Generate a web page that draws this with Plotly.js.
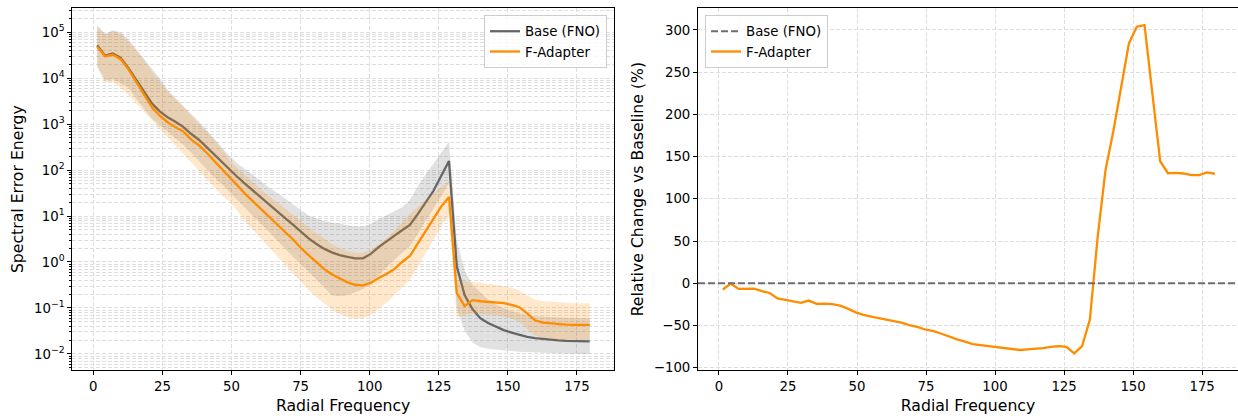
<!DOCTYPE html>
<html>
<head>
<meta charset="utf-8">
<script src="https://cdn.plot.ly/plotly-3.0.1.min.js"></script>
<style>html,body{margin:0;padding:0;background:#fff;}#chart{width:1238px;height:419px;}</style>
</head>
<body>
<div id="chart"></div>
<script>
// ---- data ----
const freq = [1.41, 4.24, 7.07, 9.9, 12.73, 15.56, 18.38, 21.21, 24.04, 26.87, 29.7, 32.53, 35.36, 38.18, 41.01, 43.84,
  46.67, 49.5, 52.33, 55.15, 57.98, 60.81, 63.64, 66.47, 69.3, 72.12, 74.95, 77.78, 80.61, 83.44, 86.27, 89.1,
  91.92, 94.75, 97.58, 100.41, 103.24, 106.07, 108.89, 111.72, 114.55, 117.38, 120.21, 123.04, 125.87, 128.69, 131.52, 134.35,
  137.18, 140.01, 142.84, 145.66, 148.49, 151.32, 154.15, 156.98, 159.81, 162.63, 165.46, 168.29, 171.12, 173.95, 176.78, 179.61];

const baseMean = [52000, 31000, 34500, 27500, 16500, 9100, 5080, 2820, 1900, 1410, 1120, 870, 617, 457, 316, 214,
  146, 100, 69, 49, 34.7, 24.5, 17.4, 12.6, 9.1, 6.6, 4.6, 3.3, 2.5, 1.95, 1.62, 1.41,
  1.3, 1.2, 1.2, 1.5, 2.1, 2.85, 3.7, 4.9, 6.4, 11, 19, 35, 74, 158, 0.8, 0.19,
  0.095, 0.06, 0.047, 0.039, 0.033, 0.029, 0.026, 0.0235, 0.022, 0.021, 0.0203, 0.0197, 0.0193, 0.019, 0.0188, 0.0187];
const baseLow = [18200, 8900, 9500, 7600, 6300, 3550, 2140, 1320, 955, 690, 500, 355, 240, 158, 100, 69,
  48, 32, 21.4, 14.1, 9.5, 6.6, 4.5, 2.95, 2.0, 1.32, 0.93, 0.63, 0.43, 0.28, 0.19, 0.18,
  0.19, 0.22, 0.26, 0.35, 0.52, 0.79, 1.12, 1.58, 2.14, 4.0, 7.9, 14.1, 28, 52, 0.1, 0.032,
  0.018, 0.0141, 0.0129, 0.0123, 0.0117, 0.0115, 0.0112, 0.011, 0.0107, 0.0105, 0.0102, 0.0101, 0.01, 0.01, 0.01, 0.01];
const baseHigh = [141000, 93000, 110000, 100000, 69000, 43000, 26000, 16000, 10000, 5600, 3700, 2570, 1660, 1150, 740, 470,
  297, 195, 138, 102, 76, 56, 42, 32, 24, 18.2, 13.6, 10.4, 8.9, 7.8, 7.2, 6.9,
  6.3, 5.9, 5.9, 6.7, 8.5, 10.3, 12.5, 15.5, 22.7, 44, 79, 139, 234, 415, 3.0, 0.65,
  0.32, 0.22, 0.15, 0.12, 0.098, 0.085, 0.076, 0.07, 0.066, 0.064, 0.063, 0.062, 0.061, 0.06, 0.06, 0.06];

const adaptMean = [48000, 30000, 32200, 25800, 15500, 8300, 4500, 2310, 1520, 1100, 860, 690, 466, 347, 238, 157,
  102, 65.5, 43, 29.6, 20.3, 13.8, 9.6, 6.7, 4.55, 3.17, 2.07, 1.43, 1.0, 0.71, 0.54, 0.44,
  0.36, 0.32, 0.31, 0.35, 0.45, 0.55, 0.7, 1.0, 1.35, 2.5, 4.6, 8.8, 16, 26, 0.21, 0.11,
  0.148, 0.14, 0.135, 0.13, 0.127, 0.117, 0.104, 0.076, 0.054, 0.048, 0.046, 0.0445, 0.0435, 0.043, 0.0435, 0.0428];
const adaptLow = [17600, 8300, 8300, 6300, 4300, 2800, 1860, 1200, 800, 525, 340, 224, 148, 98, 63, 42,
  27.5, 20, 12.6, 7.4, 4.8, 3.2, 2.1, 1.32, 0.87, 0.575, 0.38, 0.25, 0.174, 0.126, 0.093, 0.074,
  0.063, 0.058, 0.06, 0.071, 0.095, 0.13, 0.19, 0.28, 0.41, 0.79, 1.58, 3.16, 6.0, 11.2, 0.063, 0.07,
  0.076, 0.074, 0.071, 0.068, 0.065, 0.06, 0.05, 0.035, 0.025, 0.0224, 0.021, 0.0204, 0.02, 0.02, 0.02, 0.02];
const adaptHigh = [132000, 89000, 105000, 89000, 63000, 40000, 24000, 14100, 8300, 5200, 3500, 2400, 1580, 1000, 660, 450,
  280, 158, 107, 74, 52, 37, 27, 20, 14.8, 10.7, 7.9, 5.6, 4.2, 3.2, 2.45, 2.0,
  1.74, 1.58, 1.58, 1.82, 2.4, 3.3, 4.8, 7.1, 11.2, 15.8, 22.4, 31.6, 42.7, 56, 0.4, 0.38,
  0.37, 0.355, 0.33, 0.316, 0.3, 0.275, 0.24, 0.19, 0.15, 0.14, 0.135, 0.132, 0.129, 0.126, 0.126, 0.126];

const relChange = [-7.4, -0.3, -6.6, -6.3, -6.3, -9.4, -11.5, -18, -20, -21.5, -23.2, -20.5, -24.4, -24, -24.8, -26.5,
  -30, -34.5, -37.5, -39.5, -41.5, -43.5, -45, -47, -50, -52, -55, -56.7, -59.8, -63.5, -66.5, -69,
  -72, -73.2, -74.2, -75.2, -76.5, -77.5, -79, -78.3, -77.7, -76.8, -75.2, -74.4, -75.2, -83, -74.4, -43,
  55, 134, 180, 232, 284, 303.8, 305.8, 225, 144.5, 130.3, 130.8, 130, 128, 128, 131.2, 129.7];
const baselineLevel = 0;

const xTicks = [0, 25, 50, 75, 100, 125, 150, 175];
const logTickVals = [0.01, 0.1, 1, 10, 100, 1000, 10000, 100000];
const logTickText = ['10<sup>\u22122</sup>', '10<sup>\u22121</sup>', '10<sup>0</sup>', '10<sup>1</sup>',
  '10<sup>2</sup>', '10<sup>3</sup>', '10<sup>4</sup>', '10<sup>5</sup>'];
const relTicks = [-100, -50, 0, 50, 100, 150, 200, 250, 300];
const seriesNames = ['Base (FNO)', 'F-Adapter'];

// ---- styling ----
const GRAY = '#666666', ORANGE = '#FF8C00';
const gridC = '#dedede';
const minorVals = [];
logTickVals.forEach(function (d) { for (let k = 2; k <= 9; k++) minorVals.push(d * k); });
minorVals.unshift(0.005, 0.006, 0.007, 0.008, 0.009);

const traces = [
  {x: freq, y: baseLow, mode: 'lines', line: {width: 0, color: GRAY}, showlegend: false, hoverinfo: 'skip', xaxis: 'x', yaxis: 'y'},
  {x: freq, y: baseHigh, mode: 'lines', line: {width: 0, color: GRAY}, fill: 'tonexty', fillcolor: 'rgba(105,105,105,0.2)', showlegend: false, hoverinfo: 'skip', xaxis: 'x', yaxis: 'y'},
  {x: freq, y: baseMean, mode: 'lines', line: {width: 2.3, color: GRAY}, name: seriesNames[0], legend: 'legend', legendrank: 1, xaxis: 'x', yaxis: 'y'},
  {x: freq, y: adaptLow, mode: 'lines', line: {width: 0, color: ORANGE}, showlegend: false, hoverinfo: 'skip', xaxis: 'x', yaxis: 'y'},
  {x: freq, y: adaptHigh, mode: 'lines', line: {width: 0, color: ORANGE}, fill: 'tonexty', fillcolor: 'rgba(255,140,0,0.2)', showlegend: false, hoverinfo: 'skip', xaxis: 'x', yaxis: 'y'},
  {x: freq, y: adaptMean, mode: 'lines', line: {width: 2.3, color: ORANGE}, name: seriesNames[1], legend: 'legend', legendrank: 2, xaxis: 'x', yaxis: 'y'},
  {x: freq, y: relChange, mode: 'lines', line: {width: 2.3, color: ORANGE}, name: seriesNames[1], legend: 'legend2', legendrank: 2, xaxis: 'x2', yaxis: 'y2'}
];

const tickFont = {family: 'DejaVu Sans', size: 13.3, color: '#000'};
const titleFont = {family: 'DejaVu Sans', size: 15.7, color: '#000'};
const yDom = [0.11695, 0.98019];

function xAxisCommon(domain, range, anchor) {
  return {
    domain: domain, range: range, anchor: anchor,
    tickmode: 'array', tickvals: xTicks, ticks: 'outside', ticklen: 4, tickwidth: 1, tickcolor: '#000',
    showline: true, linecolor: '#000', linewidth: 1, mirror: true,
    showgrid: true, gridcolor: gridC, griddash: '4px,2px', gridwidth: 1, zeroline: false,
    tickfont: tickFont, title: {text: 'Radial Frequency', font: titleFont, standoff: 7}
  };
}

const legendBase = {
  yanchor: 'top', traceorder: 'normal',
  bgcolor: 'rgba(255,255,255,0.8)', bordercolor: '#cccccc', borderwidth: 1,
  font: {family: 'DejaVu Sans', size: 13.3, color: '#000'}, itemwidth: 30, tracegroupgap: 0
};

const layout = {
  width: 1238, height: 419,
  margin: {l: 0, r: 0, t: 0, b: 0},
  paper_bgcolor: '#fff', plot_bgcolor: '#fff',
  font: {family: 'DejaVu Sans', size: 13.3, color: '#000'},
  xaxis: xAxisCommon([0.0584, 0.49596], [-7.6, 188.4], 'y'),
  yaxis: {
    type: 'log', domain: yDom, range: [-2.35, 5.52], anchor: 'x',
    tickmode: 'array', tickvals: logTickVals, ticktext: logTickText,
    ticks: 'outside', ticklen: 4, tickwidth: 1, tickcolor: '#000',
    showline: true, linecolor: '#000', linewidth: 1, mirror: true,
    showgrid: true, gridcolor: gridC, griddash: '4px,2px', gridwidth: 1, zeroline: false,
    minor: {tickmode: 'array', tickvals: minorVals, ticks: 'outside', ticklen: 2, tickcolor: '#000',
            showgrid: true, gridcolor: gridC, griddash: '4px,2px', gridwidth: 1},
    tickfont: tickFont, title: {text: 'Spectral Error Energy', font: titleFont, standoff: 6}
  },
  xaxis2: xAxisCommon([0.56381, 1], [-7.6, 188.0], 'y2'),
  yaxis2: {
    domain: yDom, range: [-102.7, 325.6], anchor: 'x2',
    tickmode: 'array', tickvals: relTicks,
    ticks: 'outside', ticklen: 4, tickwidth: 1, tickcolor: '#000',
    showline: true, linecolor: '#000', linewidth: 1, mirror: false,
    showgrid: true, gridcolor: gridC, griddash: '4px,2px', gridwidth: 1, zeroline: false,
    tickfont: tickFont, title: {text: 'Relative Change vs Baseline (%)', font: titleFont, standoff: 6}
  },
  legend: Object.assign({x: 0.4903, y: 0.964, xanchor: 'right'}, legendBase),
  legend2: Object.assign({x: 0.5695, y: 0.964, xanchor: 'left'}, legendBase),
  shapes: [{
    type: 'line', xref: 'x2 domain', x0: 0, x1: 1, yref: 'y2', y0: baselineLevel, y1: baselineLevel,
    line: {color: '#6e6e6e', width: 2, dash: '7px,3px'}, layer: 'above',
    showlegend: true, name: seriesNames[0], legend: 'legend2', legendrank: 1
  }]
};

Plotly.newPlot('chart', traces, layout, {displayModeBar: false, staticPlot: true});
</script>
</body>
</html>
